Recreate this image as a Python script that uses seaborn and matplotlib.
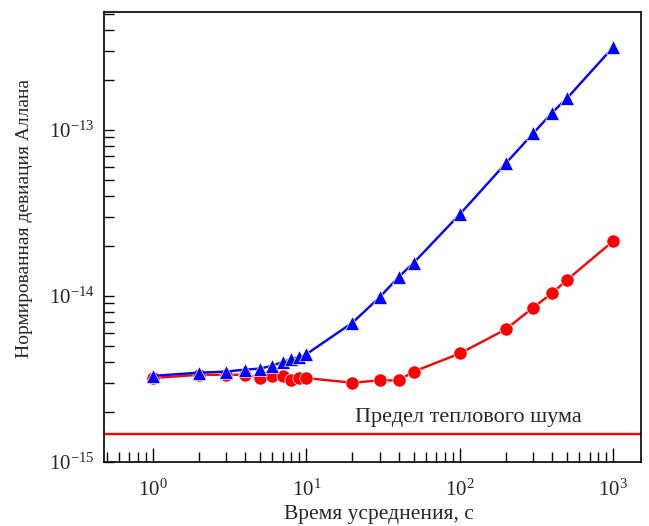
import matplotlib
matplotlib.use("Agg")
import matplotlib.pyplot as plt
import seaborn as sns
import numpy as np
import pandas as pd
from matplotlib.ticker import FixedLocator, NullFormatter, LogFormatterSciNotation

tau = [1, 2, 3, 4, 5, 6, 7, 8, 9, 10, 20, 30, 40, 50, 100, 200, 300, 400, 500, 1000]
blue_vals = [3.3e-15, 3.45e-15, 3.5e-15, 3.6e-15, 3.65e-15, 3.8e-15, 4.0e-15, 4.15e-15,
             4.3e-15, 4.45e-15, 6.9e-15, 9.8e-15, 1.3e-14, 1.58e-14, 3.1e-14, 6.3e-14,
             9.5e-14, 1.27e-13, 1.55e-13, 3.15e-13]
red_vals = [3.2e-15, 3.35e-15, 3.35e-15, 3.35e-15, 3.2e-15, 3.3e-15, 3.28e-15, 3.1e-15,
            3.2e-15, 3.2e-15, 3.0e-15, 3.1e-15, 3.1e-15, 3.5e-15, 4.5e-15, 6.3e-15,
            8.5e-15, 1.04e-14, 1.25e-14, 2.14e-14]
thermal_limit = 1.47e-15
limit_label = "Предел теплового шума"
xlabel = "Время усреднения, с"
ylabel = "Нормированная девиация Аллана"
x_major = [1, 10, 100, 1000]
y_major = [1e-15, 1e-14, 1e-13]

sns.set_style("ticks")
plt.rcParams["font.family"] = ["Liberation Serif", "DejaVu Serif"]
plt.rcParams["mathtext.fontset"] = "stix"

fig = plt.figure(figsize=(6.49, 5.26), dpi=100)
ax = fig.add_axes([0.160, 0.1217, 0.828, 0.855])

df_r = pd.DataFrame({"tau": tau, "v": red_vals})
df_b = pd.DataFrame({"tau": tau, "v": blue_vals})
sns.lineplot(data=df_r, x="tau", y="v", ax=ax, color="#ff0000", marker="o",
             markersize=9.5, markeredgecolor="white", markeredgewidth=0.5, linewidth=1.7)
sns.lineplot(data=df_b, x="tau", y="v", ax=ax, color="#0000ff", marker="^",
             markersize=10.5, markeredgecolor="white", markeredgewidth=0.5, linewidth=1.7)
ax.axhline(thermal_limit, color="#ff0000", linewidth=1.7)
ax.text(20.8, 1.75e-15, limit_label, fontsize=16, ha="left", va="baseline")

ax.set_xscale("log")
ax.set_yscale("log")
ax.set_xlim(0.48, 1520)
ax.set_ylim(1e-15, 5.1e-13)

x_minor = [m * 10.0 ** e for e in range(-1, 4) for m in range(2, 10)]
x_minor = [v for v in x_minor if 0.48 <= v <= 1520]
y_minor = [m * 10.0 ** e for e in range(-15, -12) for m in range(2, 10)]
y_minor = [v for v in y_minor if v <= 5.1e-13]

ax.xaxis.set_major_locator(FixedLocator(x_major))
ax.xaxis.set_major_formatter(LogFormatterSciNotation())
ax.xaxis.set_minor_locator(FixedLocator(x_minor))
ax.xaxis.set_minor_formatter(NullFormatter())
ax.yaxis.set_major_locator(FixedLocator(y_major))
ax.yaxis.set_major_formatter(LogFormatterSciNotation())
ax.yaxis.set_minor_locator(FixedLocator(y_minor))
ax.yaxis.set_minor_formatter(NullFormatter())

ax.tick_params(which="both", direction="in", top=False, right=False, color="black")
ax.tick_params(which="major", axis="x", length=10, width=1, labelsize=15, pad=13)
ax.tick_params(which="minor", axis="x", length=7, width=1)
ax.tick_params(which="major", axis="y", length=7, width=1, labelsize=15, pad=7)
ax.tick_params(which="minor", axis="y", length=7, width=1)

for s in ax.spines.values():
    s.set_color("black")
    s.set_linewidth(1.2)

ax.set_xlabel(xlabel, fontsize=15.5)
ax.set_ylabel(ylabel, fontsize=14)
ax.xaxis.set_label_coords(0.512, -0.096)
ax.yaxis.set_label_coords(-0.132, 0.542)

fig.savefig("out.png", dpi=100)
